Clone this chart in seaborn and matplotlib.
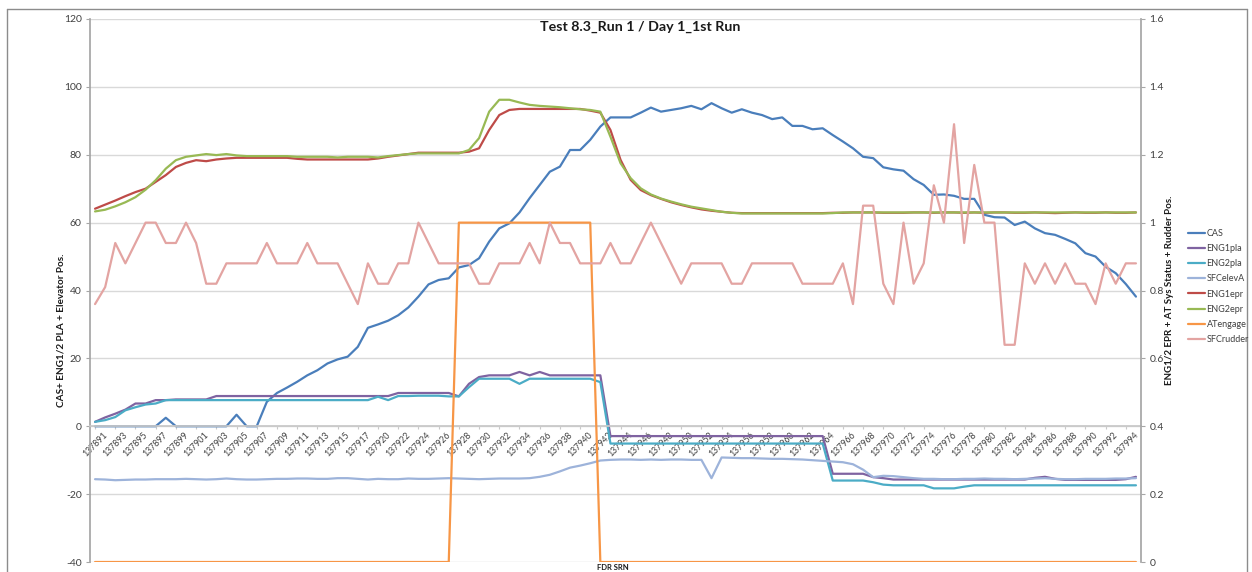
import numpy as np
import pandas as pd
import matplotlib
matplotlib.use("Agg")
import matplotlib.pyplot as plt
import seaborn as sns
from matplotlib.lines import Line2D

# ---------------- data ----------------
fdr_srn = [137891, 137892, 137893, 137894, 137895, 137896, 137897, 137898, 137899, 137900,
           137901, 137902, 137903, 137904, 137905, 137906, 137907, 137908, 137909, 137910,
           137911, 137912, 137913, 137914, 137915, 137916, 137917, 137919, 137920, 137921,
           137922, 137923, 137924, 137925, 137926, 137927, 137928, 137929, 137930, 137931,
           137932, 137933, 137934, 137935, 137936, 137937, 137938, 137939, 137940, 137941,
           137942, 137943, 137944, 137945, 137946, 137947, 137948, 137949, 137950, 137951,
           137952, 137953, 137954, 137955, 137956, 137957, 137958, 137959, 137960, 137961,
           137962, 137963, 137964, 137965, 137966, 137967, 137968, 137969, 137970, 137971,
           137972, 137973, 137974, 137975, 137976, 137977, 137978, 137979, 137980, 137981,
           137982, 137983, 137984, 137985, 137986, 137987, 137988, 137989, 137990, 137991,
           137992, 137993, 137994, 137995]

cas = [0, 0, 0, 0, 0, 0, 0, 2.5, 0, 0,
       0, 0, 0, 0, 3.4, 0, 0, 7.2, 9.8, 11.4,
       13.1, 15.0, 16.5, 18.5, 19.7, 20.5, 23.4, 29.0, 30.0, 31.1,
       32.7, 35.0, 38.2, 41.8, 43.1, 43.6, 46.8, 47.5, 49.5, 54.4,
       58.3, 59.8, 63.0, 67.2, 71.1, 75.0, 76.5, 81.4, 81.4, 84.4,
       88.3, 91.0, 91.0, 91.0, 92.4, 93.9, 92.7, 93.2, 93.7, 94.4,
       93.4, 95.2, 93.7, 92.4, 93.4, 92.4, 91.7, 90.5, 91.0, 88.5,
       88.5, 87.5, 87.8, 85.8, 83.9, 81.9, 79.4, 79.0, 76.3, 75.7,
       75.3, 72.8, 71.1, 68.2, 68.3, 67.9, 67.0, 67.0, 62.3, 61.6,
       61.5, 59.3, 60.3, 58.3, 56.9, 56.4, 55.2, 53.9, 51.0, 50.0,
       47.0, 45.1, 41.9, 38.2]

eng1_pla = [1.3, 2.6, 3.7, 4.9, 6.7, 6.7, 7.7, 7.7, 7.9, 7.9,
            7.9, 7.9, 8.9, 8.9, 8.9, 8.9, 8.9, 8.9, 8.9, 8.9,
            8.9, 8.9, 8.9, 8.9, 8.9, 8.9, 8.9, 8.9, 8.9, 8.9,
            9.8, 9.8, 9.8, 9.8, 9.8, 9.8, 8.8, 12.5, 14.5, 15.0,
            15.0, 15.0, 16.0, 15.0, 16.0, 15.0, 15.0, 15.0, 15.0, 15.0,
            15.0, -2.9, -2.9, -2.9, -2.9, -2.9, -2.9, -2.9, -2.9, -2.9,
            -2.9, -2.9, -2.9, -2.9, -2.9, -2.9, -2.9, -2.9, -2.9, -2.9,
            -2.9, -2.9, -2.9, -14.0, -14.0, -14.0, -14.0, -15.0, -15.3, -15.7,
            -15.7, -15.7, -15.7, -15.7, -15.7, -15.7, -15.7, -15.7, -15.7, -15.7,
            -15.7, -15.7, -15.7, -15.2, -14.9, -15.5, -15.8, -15.8, -15.8, -15.8,
            -15.8, -15.8, -15.6, -14.9]

eng2_pla = [1.3, 1.8, 2.7, 4.7, 5.6, 6.4, 6.7, 7.7, 7.7, 7.7,
            7.7, 7.7, 7.7, 7.7, 7.7, 7.7, 7.7, 7.7, 7.7, 7.7,
            7.7, 7.7, 7.7, 7.7, 7.7, 7.7, 7.7, 7.7, 8.7, 7.7,
            8.9, 8.9, 9.0, 9.0, 9.0, 8.8, 8.8, 11.5, 14.0, 14.0,
            14.0, 14.0, 12.5, 14.0, 14.0, 14.0, 14.0, 14.0, 14.0, 14.0,
            13.0, -5.1, -5.1, -5.1, -5.1, -5.1, -5.1, -5.1, -5.1, -5.1,
            -5.1, -5.1, -5.1, -5.1, -5.1, -5.1, -5.1, -5.1, -5.1, -5.1,
            -5.1, -5.1, -5.1, -16.0, -16.0, -16.0, -16.0, -16.5, -17.2, -17.4,
            -17.4, -17.4, -17.4, -18.3, -18.3, -18.3, -17.8, -17.4, -17.4, -17.4,
            -17.4, -17.4, -17.4, -17.4, -17.4, -17.4, -17.4, -17.4, -17.4, -17.4,
            -17.4, -17.4, -17.4, -17.4]

sfc_elev_a = [-15.6, -15.7, -15.9, -15.8, -15.7, -15.7, -15.6, -15.6, -15.6, -15.5,
              -15.6, -15.7, -15.6, -15.4, -15.6, -15.7, -15.7, -15.6, -15.5, -15.5,
              -15.4, -15.4, -15.5, -15.5, -15.3, -15.3, -15.5, -15.7, -15.5, -15.6,
              -15.6, -15.4, -15.5, -15.5, -15.4, -15.3, -15.4, -15.5, -15.6, -15.5,
              -15.4, -15.4, -15.4, -15.3, -14.9, -14.3, -13.3, -12.2, -11.6, -10.9,
              -10.1, -9.9, -9.8, -9.8, -9.9, -9.8, -9.9, -9.8, -9.8, -9.9,
              -9.9, -15.3, -9.2, -9.3, -9.4, -9.4, -9.5, -9.6, -9.6, -9.7,
              -9.8, -10.0, -10.2, -10.4, -10.6, -11.2, -12.8, -15.0, -14.6, -14.7,
              -15.0, -15.3, -15.5, -15.5, -15.6, -15.6, -15.5, -15.5, -15.4, -15.5,
              -15.5, -15.6, -15.5, -15.4, -15.3, -15.5, -15.6, -15.6, -15.5, -15.5,
              -15.5, -15.4, -15.4, -15.3]

eng1_epr = [1.041, 1.053, 1.065, 1.078, 1.090, 1.100, 1.120, 1.140, 1.164, 1.176,
            1.184, 1.181, 1.186, 1.189, 1.191, 1.191, 1.191, 1.191, 1.191, 1.191,
            1.188, 1.186, 1.186, 1.186, 1.186, 1.186, 1.186, 1.186, 1.189, 1.194,
            1.198, 1.202, 1.206, 1.206, 1.206, 1.206, 1.206, 1.209, 1.219, 1.273,
            1.317, 1.332, 1.335, 1.335, 1.335, 1.335, 1.335, 1.335, 1.335, 1.330,
            1.324, 1.273, 1.185, 1.126, 1.096, 1.081, 1.070, 1.060, 1.052, 1.045,
            1.039, 1.035, 1.032, 1.029, 1.028, 1.028, 1.028, 1.028, 1.028, 1.028,
            1.028, 1.028, 1.028, 1.029, 1.029, 1.030, 1.030, 1.030, 1.029, 1.029,
            1.029, 1.030, 1.030, 1.029, 1.030, 1.030, 1.029, 1.030, 1.029, 1.030,
            1.030, 1.029, 1.029, 1.030, 1.029, 1.028, 1.029, 1.030, 1.029, 1.029,
            1.030, 1.029, 1.029, 1.030]

eng2_epr = [1.033, 1.038, 1.048, 1.060, 1.075, 1.097, 1.125, 1.159, 1.184, 1.194,
            1.198, 1.202, 1.199, 1.202, 1.198, 1.196, 1.196, 1.196, 1.196, 1.196,
            1.194, 1.194, 1.194, 1.194, 1.192, 1.194, 1.194, 1.194, 1.192, 1.196,
            1.199, 1.202, 1.204, 1.204, 1.204, 1.204, 1.204, 1.214, 1.249, 1.327,
            1.362, 1.362, 1.354, 1.347, 1.344, 1.342, 1.340, 1.337, 1.334, 1.332,
            1.327, 1.253, 1.175, 1.131, 1.101, 1.083, 1.071, 1.062, 1.054, 1.047,
            1.042, 1.037, 1.032, 1.029, 1.027, 1.027, 1.027, 1.027, 1.027, 1.027,
            1.027, 1.027, 1.027, 1.028, 1.030, 1.030, 1.030, 1.030, 1.030, 1.030,
            1.030, 1.030, 1.030, 1.030, 1.030, 1.030, 1.030, 1.030, 1.030, 1.030,
            1.030, 1.030, 1.030, 1.030, 1.030, 1.030, 1.030, 1.030, 1.030, 1.030,
            1.030, 1.030, 1.030, 1.030]

at_engage = [0, 0, 0, 0, 0, 0, 0, 0, 0, 0,
             0, 0, 0, 0, 0, 0, 0, 0, 0, 0,
             0, 0, 0, 0, 0, 0, 0, 0, 0, 0,
             0, 0, 0, 0, 0, 0, 1, 1, 1, 1,
             1, 1, 1, 1, 1, 1, 1, 1, 1, 1,
             0, 0, 0, 0, 0, 0, 0, 0, 0, 0,
             0, 0, 0, 0, 0, 0, 0, 0, 0, 0,
             0, 0, 0, 0, 0, 0, 0, 0, 0, 0,
             0, 0, 0, 0, 0, 0, 0, 0, 0, 0,
             0, 0, 0, 0, 0, 0, 0, 0, 0, 0,
             0, 0, 0, 0]

sfc_rudder = [0.76, 0.81, 0.94, 0.88, 0.94, 1.00, 1.00, 0.94, 0.94, 1.00,
              0.94, 0.82, 0.82, 0.88, 0.88, 0.88, 0.88, 0.94, 0.88, 0.88,
              0.88, 0.94, 0.88, 0.88, 0.88, 0.82, 0.76, 0.88, 0.82, 0.82,
              0.88, 0.88, 1.00, 0.94, 0.88, 0.88, 0.88, 0.88, 0.82, 0.82,
              0.88, 0.88, 0.88, 0.94, 0.88, 1.00, 0.94, 0.94, 0.88, 0.88,
              0.88, 0.94, 0.88, 0.88, 0.94, 1.00, 0.94, 0.88, 0.82, 0.88,
              0.88, 0.88, 0.88, 0.82, 0.82, 0.88, 0.88, 0.88, 0.88, 0.88,
              0.82, 0.82, 0.82, 0.82, 0.88, 0.76, 1.05, 1.05, 0.82, 0.76,
              1.00, 0.82, 0.88, 1.11, 1.00, 1.29, 0.94, 1.17, 1.00, 1.00,
              0.64, 0.64, 0.88, 0.82, 0.88, 0.82, 0.88, 0.82, 0.82, 0.76,
              0.88, 0.82, 0.88, 0.88]

primary = [("CAS", cas, "#4A7EBB"),
           ("ENG1pla", eng1_pla, "#7F63A1"),
           ("ENG2pla", eng2_pla, "#4BACC6"),
           ("SFCelevA", sfc_elev_a, "#9DB3DA")]
secondary = [("ENG1epr", eng1_epr, "#BE4B48"),
             ("ENG2epr", eng2_epr, "#98B954"),
             ("ATengage", at_engage, "#F79646"),
             ("SFCrudder", sfc_rudder, "#E3A4A2")]

# ---------------- styling ----------------
sns.set_theme(style="white")
plt.rcParams['font.family'] = ['Lato', 'DejaVu Sans']

W, H = 1252, 572
L, R, T, B = 90, 1141, 19, 562
fig = plt.figure(figsize=(W / 100, H / 100), dpi=100)
fig.patch.set_facecolor("white")
ax = fig.add_axes([L / W, 1 - B / H, (R - L) / W, (B - T) / H])
ax2 = ax.twinx()

df = pd.DataFrame({"pos": np.arange(len(fdr_srn))})
for name, vals, col in primary:
    df[name] = vals
for name, vals, col in secondary:
    df[name] = vals

handles = []
for name, vals, col in primary:
    sns.lineplot(data=df, x="pos", y=name, ax=ax, color=col, lw=1.6, legend=False)
    handles.append(Line2D([], [], color=col, lw=1.6, label=name))
for name, vals, col in secondary:
    sns.lineplot(data=df, x="pos", y=name, ax=ax2, color=col, lw=1.6, legend=False)
    handles.append(Line2D([], [], color=col, lw=1.6, label=name))

ax.set_xlim(-0.5, len(fdr_srn) - 0.5)
ax.set_ylim(-40, 120)
ax2.set_ylim(0, 1.6)
ax.set_xlabel("")
ax.set_ylabel("")
ax2.set_xlabel("")
ax2.set_ylabel("")

spine_col = "#A6A6A6"
ax.tick_params(axis="y", length=3, width=0.8, color=spine_col, pad=3,
               labelsize=7.5, labelcolor="#404040", left=True)
ax2.tick_params(axis="y", length=3, width=0.8, color=spine_col, pad=3,
                labelsize=7.5, labelcolor="#404040", right=True)
ax2.tick_params(axis="x", bottom=False, top=False, labelbottom=False, labeltop=False)
ax.tick_params(axis="x", length=2, width=0.8, color="#C8C8C8", pad=1, bottom=True,
               labelsize=6.3, labelcolor="#404040", labelrotation=45)

ax.set_yticks(range(-40, 121, 20))
ax.set_yticklabels([str(v) for v in range(-40, 121, 20)])
r_ticks = [0, 0.2, 0.4, 0.6, 0.8, 1.0, 1.2, 1.4, 1.6]
ax2.set_yticks(r_ticks)
ax2.set_yticklabels(["0", "0.2", "0.4", "0.6", "0.8", "1", "1.2", "1.4", "1.6"])

xt = list(range(0, len(fdr_srn), 2))
ax.set_xticks(xt)
ax.set_xticklabels([str(fdr_srn[i]) for i in xt])
for lbl in ax.get_xticklabels():
    lbl.set_rotation(45)
    lbl.set_ha("right")
    lbl.set_va("top")
    lbl.set_rotation_mode("anchor")
    lbl.set_fontsize(6.3)

ax.grid(axis="y", color="#D9D9D9", lw=1)
ax.grid(axis="x", visible=False)
ax.set_axisbelow(True)
ax2.grid(False)

for s in ["top", "right"]:
    ax.spines[s].set_visible(False)
ax.spines["left"].set_color(spine_col)
ax.spines["bottom"].set_position(("data", 0))
ax.spines["bottom"].set_color("#C8C8C8")
for s in ["top", "left", "bottom"]:
    ax2.spines[s].set_visible(False)
ax2.spines["right"].set_color(spine_col)

# titles
fig.text(640 / W, 1 - 27 / H, "Test 8.3_Run 1 / Day 1_1st Run", ha="center", va="center",
         fontsize=10.3, fontweight="bold", color="#1a1a1a")
fig.text(613 / W, 1 - 568 / H, "FDR SRN", ha="center", va="center",
         fontsize=5.5, fontweight="bold", color="#1a1a1a")
fig.text(61 / W, 1 - 330 / H, "CAS+ ENG1/2 PLA + Elevator Pos.", rotation=90,
         ha="center", va="center", fontsize=7.2, fontweight="bold", color="#1a1a1a")
fig.text(1170 / W, 1 - 290 / H, "ENG1/2 EPR + AT Sys Status + Rudder Pos.", rotation=90,
         ha="center", va="center", fontsize=7.0, fontweight="bold", color="#1a1a1a")

# legend
fig.legend(handles=handles, loc="upper left", bbox_to_anchor=(1188 / W, 1 - 229 / H),
           bbox_transform=fig.transFigure, frameon=False, fontsize=6.5,
           handlelength=1.9, handletextpad=0.15, labelspacing=0.68,
           borderpad=0, borderaxespad=0, labelcolor="#404040")

# outer chart border
bc = "#8C8C8C"
fig.add_artist(Line2D([7 / W, 7 / W], [0, 1 - 9 / H], transform=fig.transFigure, color=bc, lw=1))
fig.add_artist(Line2D([7 / W, 1247 / W], [1 - 9 / H, 1 - 9 / H], transform=fig.transFigure, color=bc, lw=1))
fig.add_artist(Line2D([1247 / W, 1247 / W], [0, 1 - 9 / H], transform=fig.transFigure, color=bc, lw=1))

fig.savefig("out.png", dpi=100, facecolor="white")
